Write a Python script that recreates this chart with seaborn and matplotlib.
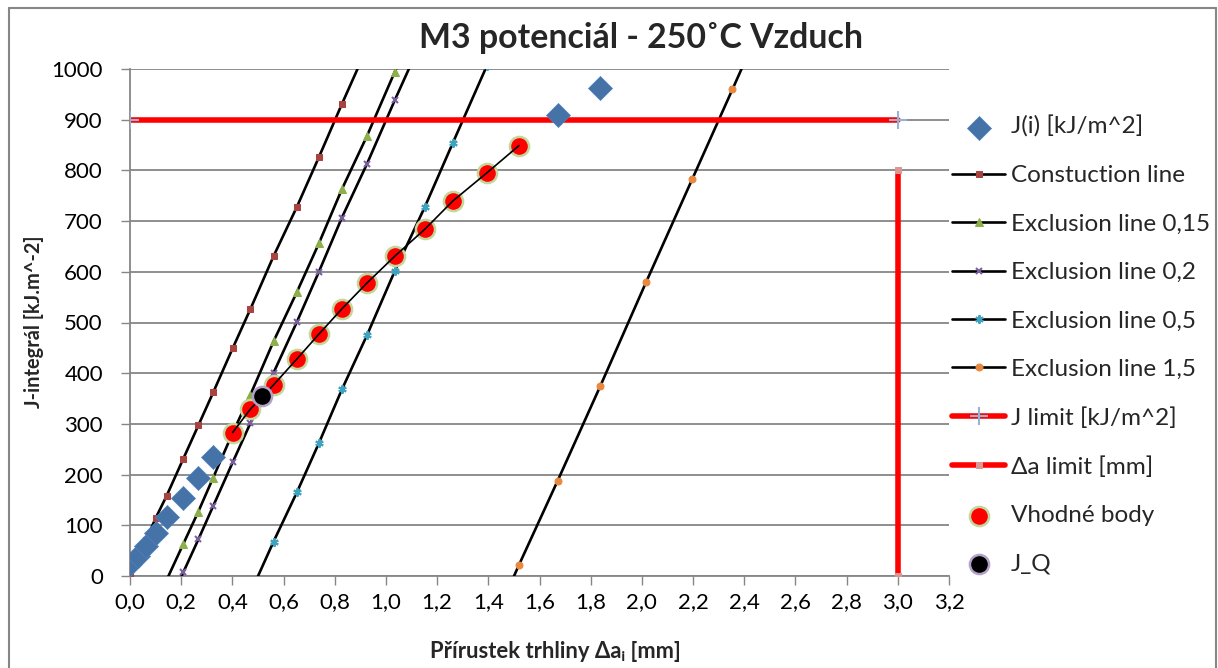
import matplotlib
matplotlib.use("Agg")
import matplotlib.pyplot as plt
import seaborn as sns
from matplotlib.ticker import FuncFormatter
from matplotlib.lines import Line2D

# ---------------- data ----------------
ji_da = [0.0, 0.03, 0.063, 0.10, 0.143, 0.208, 0.267, 0.325, 1.671, 1.837]
ji_J = [24, 40, 60, 84, 117, 153, 194, 235, 910, 963]

con_da = [0.0, 0.03, 0.063, 0.10, 0.143, 0.208, 0.267, 0.325, 0.401, 0.47, 0.561, 0.652, 0.738, 0.828, 0.926]
con_J = [0, 34, 71, 114, 158, 231, 297, 362, 449, 526, 631, 728, 826, 931, 1042]

ex015_da = [0.143, 0.208, 0.267, 0.325, 0.401, 0.47, 0.561, 0.652, 0.738, 0.828, 0.926, 1.035, 1.152]
ex015_J = [-8, 63, 127, 194, 282, 357, 463, 560, 656, 763, 868, 995, 1127]

ex02_da = [0.143, 0.208, 0.267, 0.325, 0.401, 0.47, 0.561, 0.652, 0.738, 0.828, 0.926, 1.035, 1.152]
ex02_J = [-64, 7, 72, 138, 224, 301, 401, 501, 600, 707, 813, 939, 1070]

ex05_da = [0.47, 0.561, 0.652, 0.738, 0.828, 0.926, 1.035, 1.152, 1.262, 1.394]
ex05_J = [-34, 68, 165, 262, 368, 475, 602, 728, 855, 1006]

ex15_da = [1.394, 1.52, 1.671, 1.837, 2.016, 2.197, 2.354, 2.52]
ex15_J = [-120, 22, 188, 374, 579, 783, 960, 1148]

jlim_da = [0.0, 3.0]
jlim_J = [900, 900]

dalim_da = [3.0, 3.0]
dalim_J = [800, 0]

ok_da = [0.401, 0.47, 0.561, 0.652, 0.738, 0.828, 0.926, 1.035, 1.152, 1.262, 1.394, 1.52]
ok_J = [283, 329, 377, 428, 477, 527, 578, 631, 684, 740, 795, 849]

jq_da = [0.514]
jq_J = [355]

xticks = [round(0.2 * i, 1) for i in range(17)]
yticks = list(range(0, 1001, 100))

title = "M3 potenciál - 250˚C Vzduch"
xlabel = "Přírustek trhliny Δaᵢ [mm]"
ylabel = "J-integrál [kJ.m^-2]"

# ---------------- style ----------------
sns.set_theme(style="white")
FONT = ["Lato", "DejaVu Sans"]
plt.rcParams["font.family"] = FONT
GRID = "#868686"

W, H = 1218, 668
fig = plt.figure(figsize=(W / 100, H / 100), dpi=100)
ax = fig.add_axes([130 / W, 1 - 576 / H, (949 - 130) / W, (576 - 69) / H])

lw_black = 1.9
sns.lineplot(x=con_da, y=con_J, ax=ax, sort=False, estimator=None, color="black", lw=lw_black,
             marker="s", markersize=5, markerfacecolor="#A9433F", markeredgecolor="#A9433F",
             label="Constuction line", zorder=3)
sns.lineplot(x=ex015_da, y=ex015_J, ax=ax, sort=False, estimator=None, color="black", lw=lw_black,
             marker="^", markersize=6, markerfacecolor="#8CB04A", markeredgecolor="#8CB04A",
             label="Exclusion line 0,15", zorder=3)
sns.lineplot(x=ex02_da, y=ex02_J, ax=ax, sort=False, estimator=None, color="black", lw=lw_black,
             marker="x", markersize=5, markeredgewidth=1.5, markerfacecolor="#7A5FA0", markeredgecolor="#7A5FA0",
             label="Exclusion line 0,2", zorder=3)
sns.lineplot(x=ex05_da, y=ex05_J, ax=ax, sort=False, estimator=None, color="black", lw=lw_black,
             marker=(6, 2, 0), markersize=6, markeredgewidth=1.5, markerfacecolor="#3DA3BF", markeredgecolor="#3DA3BF",
             label="Exclusion line 0,5", zorder=3)
sns.lineplot(x=ex15_da, y=ex15_J, ax=ax, sort=False, estimator=None, color="black", lw=lw_black,
             marker="o", markersize=5, markerfacecolor="#E8893F", markeredgecolor="#E8893F",
             label="Exclusion line 1,5", zorder=3)

sns.lineplot(x=jlim_da, y=jlim_J, ax=ax, sort=False, estimator=None, color="#FF0000", lw=4,
             marker="+", markersize=13, markeredgewidth=1.5, markeredgecolor="#95B3D7",
             label="J limit [kJ/m^2]", zorder=4)
sns.lineplot(x=dalim_da, y=dalim_J, ax=ax, sort=False, estimator=None, color="#FF0000", lw=4,
             marker="s", markersize=5, markerfacecolor="#D99694", markeredgecolor="#D99694",
             label="Δa limit [mm]", zorder=4)

sns.scatterplot(x=ji_da, y=ji_J, ax=ax, marker="D", s=150, color="#4572A7", edgecolor="#4F81BD",
                linewidth=0.5, label="J(i) [kJ/m^2]", zorder=6)

sns.scatterplot(x=ok_da, y=ok_J, ax=ax, marker="o", s=190, color="#FF0000", edgecolor="#C3D69B",
                linewidth=1.8, label="Vhodné body", zorder=7)
sns.lineplot(x=ok_da, y=ok_J, ax=ax, sort=False, estimator=None, color="black", lw=1.2,
             label="_nolegend_", zorder=8)
sns.scatterplot(x=jq_da, y=jq_J, ax=ax, marker="o", s=190, color="black", edgecolor="#B3A2C7",
                linewidth=1.8, label="J_Q", zorder=9)

ax.set_xlim(0, 3.2)
ax.set_ylim(0, 1000)
ax.set_xticks(xticks)
ax.set_yticks(yticks)
ax.xaxis.set_major_formatter(FuncFormatter(lambda v, p: f"{v:.1f}".replace(".", ",")))
ax.yaxis.set_major_formatter(FuncFormatter(lambda v, p: f"{v:.0f}"))
ax.grid(axis="y", color=GRID, lw=1.3)
ax.grid(axis="x", visible=False)
ax.set_axisbelow(True)
for s in ["top", "right"]:
    ax.spines[s].set_visible(False)
for s in ["left", "bottom"]:
    ax.spines[s].set_color(GRID)
    ax.spines[s].set_linewidth(1.3)
ax.tick_params(axis="both", which="major", direction="out", length=6.5, width=1.0, color=GRID,
               labelsize=16, colors=GRID, labelcolor="black")
ax.tick_params(axis="y", pad=13)
ax.tick_params(axis="x", pad=5)
ax.tick_params(left=True, bottom=True)
ax.set_xlabel("")
ax.set_ylabel("")
if ax.get_legend():
    ax.get_legend().remove()

fig.text(641 / W, 1 - 38 / H, title, ha="center", va="center", fontsize=24.4, fontweight="bold", family=FONT)
fig.text(555 / W, 1 - 651 / H, xlabel, ha="center", va="center", fontsize=15.8, fontweight="bold", family=FONT)
fig.text(34 / W, 1 - 322 / H, ylabel, ha="center", va="center", rotation=90, fontsize=14.4,
         fontweight="bold", family=FONT)

handles, labels = ax.get_legend_handles_labels()
hmap = dict(zip(labels, handles))
order = ["J(i) [kJ/m^2]", "Constuction line", "Exclusion line 0,15", "Exclusion line 0,2",
         "Exclusion line 0,5", "Exclusion line 1,5", "J limit [kJ/m^2]", "Δa limit [mm]",
         "Vhodné body", "J_Q"]
fig.legend([hmap[k] for k in order], order, loc="upper left",
           bbox_to_anchor=(952 / W, 1 - 116 / H), frameon=False,
           handlelength=2.2, handletextpad=0.22, labelspacing=1.125, borderpad=0, borderaxespad=0,
           prop={"family": FONT, "size": 17.5})

fig.add_artist(Line2D([9 / W, 9 / W], [0, 1 - 8 / H], color=GRID, lw=1.5, transform=fig.transFigure))
fig.add_artist(Line2D([9 / W, 1216 / W], [1 - 8 / H, 1 - 8 / H], color=GRID, lw=1.5, transform=fig.transFigure))
fig.add_artist(Line2D([1216 / W, 1216 / W], [0, 1 - 8 / H], color=GRID, lw=1.5, transform=fig.transFigure))

fig.savefig("out.png", dpi=100)
